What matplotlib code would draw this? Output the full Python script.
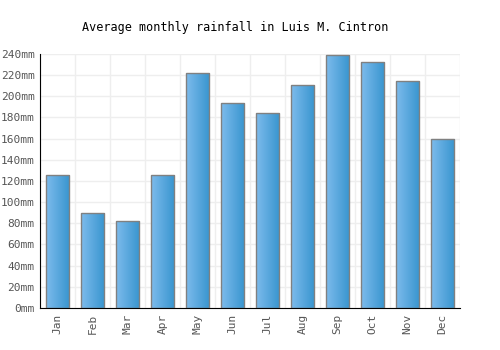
import matplotlib
matplotlib.use("Agg")
import matplotlib.pyplot as plt
import numpy as np
from matplotlib.colors import LinearSegmentedColormap

months = ["Jan", "Feb", "Mar", "Apr", "May", "Jun", "Jul", "Aug", "Sep", "Oct", "Nov", "Dec"]
rainfall = [126, 90, 82, 126, 222, 194, 184, 211, 239, 232, 214, 160]
yticks = [0, 20, 40, 60, 80, 100, 120, 140, 160, 180, 200, 220, 240]

plt.rcParams['font.family'] = ['DejaVu Sans Mono']

fig = plt.figure(figsize=(5, 3.5), dpi=100)
ax = fig.add_axes([0.08, 0.12, 0.84, 0.726])

x = np.arange(len(months))
bars = ax.bar(x, rainfall, width=0.66, color='none', edgecolor='#808080', linewidth=1.0, zorder=3)

cmap = LinearSegmentedColormap.from_list('g', ['#7dbbec', '#3895cf'])
grad = np.linspace(0, 1, 64).reshape(1, -1)
for b in bars:
    x0, y0 = b.get_x(), b.get_y()
    w, h = b.get_width(), b.get_height()
    im = ax.imshow(grad, cmap=cmap, aspect='auto', extent=[x0, x0 + w, y0, y0 + h], zorder=2)
    im.set_clip_path(b)

ax.set_xlim(-0.5, len(months) - 0.5)
ax.set_ylim(0, 240)
ax.set_xticks(x)
ax.set_xticklabels(months, rotation=90, color='#555555', fontsize=8)
ax.set_yticks(yticks)
ax.set_yticklabels([f"{v}mm" for v in yticks], color='#555555', fontsize=8)
ax.set_xticks(np.arange(-0.5, len(months), 1), minor=True)
ax.grid(False)
ax.grid(True, which='minor', axis='x', color='#eeeeee', linewidth=1, zorder=0)
ax.grid(True, which='major', axis='y', color='#eeeeee', linewidth=1, zorder=0)
ax.tick_params(axis='both', which='both', length=0, pad=4)
for s in ['top', 'right']:
    ax.spines[s].set_visible(False)
ax.spines['left'].set_color('black')
ax.spines['bottom'].set_color('black')
ax.set_axisbelow(True)

fig.text(0.47, 0.92, "Average monthly rainfall in Luis M. Cintron", ha='center', va='center', fontsize=8.5, color='black')

fig.savefig("out.png", dpi=100)
